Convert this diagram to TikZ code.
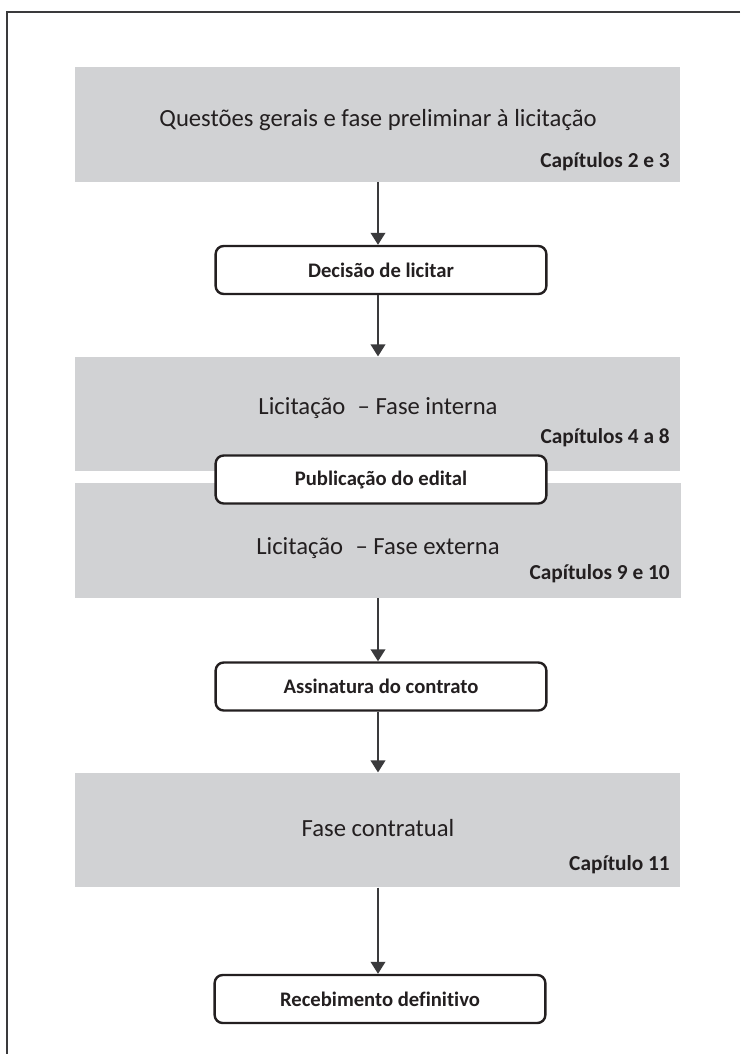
\documentclass[tikz,border=0pt]{standalone}
\usepackage{fontspec}
\setmainfont{Carlito}[Ligatures=NoCommon]
\usetikzlibrary{arrows.meta}
\definecolor{phasegray}{HTML}{D1D2D4}
\definecolor{ink}{HTML}{231F20}
\definecolor{framegray}{HTML}{3A3A3C}
\tikzset{
  phase/.style={fill=phasegray, draw=none, minimum width=454pt, minimum height=86pt, inner sep=0pt},
  maintext/.style={text=ink, font=\fontsize{18.5}{22}\selectfont, inner sep=0pt},
  chaptext/.style={text=ink, font=\bfseries\fontsize{16}{19}\selectfont, inner sep=0pt, anchor=east},
  stepbox/.style={draw=ink, line width=1.8pt, fill=white, rounded corners=6pt,
    minimum width=248pt, minimum height=36pt, inner sep=0pt, text=ink,
    font=\bfseries\fontsize{15.5}{18}\selectfont},
  flow/.style={draw=framegray, line width=1.2pt, -{Triangle[width=11pt,length=9pt]}},
}
\begin{document}
\begin{tikzpicture}[x=0.75pt,y=-0.75pt]
\useasboundingbox (0,0) rectangle (740,1054);

% page frame: top and left rules only
\coordinate (frTR) at (740,12);
\coordinate (frTL) at (7,12);
\coordinate (frBL) at (7,1054);
\draw[framegray, line width=1.4pt] (frTR) -- (frTL) -- (frBL);

% grey phase panels
\node[phase] (p1) at (377.5,124.5) {};
\node[maintext] (t1) at (378,120) {Questões gerais e fase preliminar à licitação};
\node[chaptext] (c1) at (670,162) {Capítulos 2 e 3};

\node[phase] (p2) at (377.5,414) {};
\node[maintext] (t2) at (378,408) {Licitação\enspace – Fase interna};
\node[chaptext] (c2) at (670,438) {Capítulos 4 a 8};

\node[phase] (p3) at (378,540.5) {};
\node[maintext] (t3) at (378,548) {Licitação\enspace – Fase externa};
\node[chaptext] (c3) at (670,574) {Capítulos 9 e 10};

\node[phase] (p4) at (377.5,830) {};
\node[maintext] (t4) at (378,828) {Fase contratual};
\node[chaptext] (c4) at (670,865) {Capítulo 11};

% rounded milestone boxes
\node[stepbox] (d1) at (381,270) {Decisão de licitar};
\node[stepbox] (d2) at (381,479.5) {Publicação do edital};
\node[stepbox] (d3) at (381,686.5) {Assinatura do contrato};
\node[stepbox] (d4) at (380,999) {Recebimento definitivo};

% flow arrows
\draw[flow] (p1.south -| 378,0) -- (d1.north -| 378,0);
\draw[flow] (d1.south -| 378,0) -- (p2.north -| 378,0);
\draw[flow] (p3.south -| 378,0) -- (d3.north -| 378,0);
\draw[flow] (d3.south -| 378,0) -- (p4.north -| 378,0);
\draw[flow] (p4.south -| 378,0) -- (d4.north -| 378,0);
\end{tikzpicture}
\end{document}
